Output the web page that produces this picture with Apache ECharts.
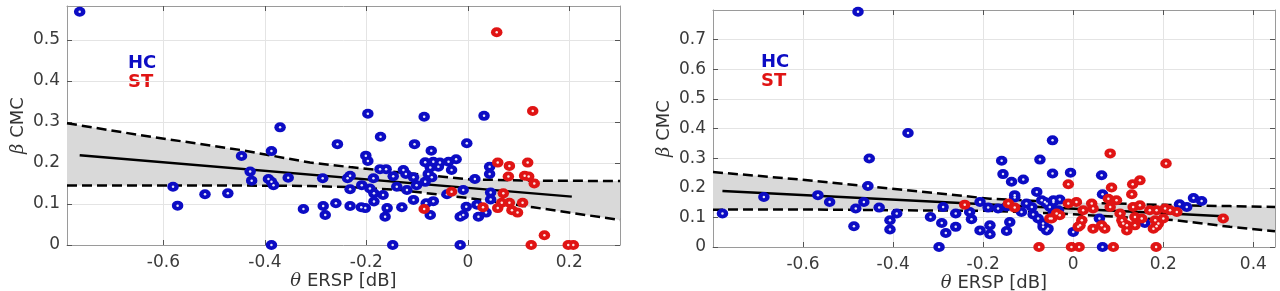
<!DOCTYPE html>
<html>
<head>
<meta charset="utf-8">
<script src="https://cdn.jsdelivr.net/npm/echarts@6/dist/echarts.min.js"></script>
<style>
  html, body { margin: 0; padding: 0; background: #fff; }
  #chart { width: 1280px; height: 291px; }
</style>
</head>
<body>
<div id="chart"></div>
<script>
// left panel points [theta ERSP, beta CMC]
const hcLeft = [
  [-0.765,0.569],[-0.581,0.142],[-0.572,0.096],[-0.518,0.124],[-0.473,0.126],[-0.446,0.217],
  [-0.429,0.179],[-0.426,0.157],[-0.370,0.287],[-0.387,0.229],[-0.393,0.161],[-0.387,0.154],
  [-0.383,0.146],[-0.354,0.164],[-0.387,0.0],[-0.324,0.088],[-0.285,0.095],[-0.281,0.073],
  [-0.197,0.320],[-0.086,0.313],[-0.172,0.264],[-0.257,0.246],[-0.105,0.246],[-0.072,0.230],
  [-0.002,0.248],[-0.201,0.218],[-0.197,0.205],[-0.084,0.202],[-0.068,0.203],[-0.055,0.201],
  [-0.038,0.203],[-0.023,0.209],[-0.032,0.183],[-0.173,0.185],[-0.161,0.185],[-0.127,0.183],
  [-0.122,0.173],[-0.232,0.169],[-0.237,0.163],[-0.286,0.163],[-0.186,0.163],[-0.147,0.168],
  [-0.107,0.165],[-0.074,0.189],[-0.078,0.173],[-0.071,0.165],[-0.058,0.191],[-0.084,0.154],
  [-0.101,0.146],[-0.140,0.142],[-0.209,0.146],[-0.193,0.138],[-0.232,0.136],[-0.185,0.126],
  [-0.167,0.122],[-0.120,0.134],[-0.041,0.124],[-0.009,0.134],[-0.260,0.102],[-0.232,0.095],
  [-0.210,0.092],[-0.202,0.090],[-0.185,0.106],[-0.159,0.090],[-0.163,0.069],[-0.130,0.092],
  [-0.107,0.110],[-0.082,0.102],[-0.068,0.107],[-0.074,0.073],[-0.015,0.069],[-0.009,0.073],
  [-0.003,0.093],[-0.148,0.0],[-0.015,0.0],[0.032,0.315],[0.043,0.191],[0.043,0.173],
  [0.014,0.161],[0.045,0.128],[0.045,0.111],[0.018,0.098],[0.021,0.069],[0.036,0.079]
];
const stLeft = [
  [-0.032,0.130],[-0.086,0.088],[0.057,0.519],[0.128,0.327],[0.059,0.201],[0.082,0.193],
  [0.118,0.201],[0.080,0.167],[0.112,0.169],[0.120,0.167],[0.131,0.150],[0.070,0.126],
  [0.030,0.092],[0.059,0.090],[0.067,0.103],[0.082,0.103],[0.087,0.085],[0.098,0.079],
  [0.108,0.103],[0.151,0.024],[0.125,0.0],[0.198,0.0],[0.208,0.0]
];
const fitLeft = [[-0.765,0.219],[0.205,0.118]];
const bandLeftX = [-0.79, -0.646, -0.449, -0.311, -0.232, -0.133, 0.005, 0.129, 0.30];
const bandLeftUp = [0.297, 0.268, 0.232, 0.201, 0.190, 0.177, 0.160, 0.157, 0.156];
const bandLeftLo = [0.145, 0.145, 0.145, 0.144, 0.141, 0.134, 0.114, 0.092, 0.061];

// right panel points
const hcRight = [
  [-0.478,0.794],[-0.779,0.113],[-0.687,0.169],[-0.567,0.175],[-0.541,0.152],[-0.487,0.070],
  [-0.483,0.130],[-0.453,0.299],[-0.456,0.206],[-0.465,0.152],[-0.431,0.133],[-0.367,0.385],
  [-0.407,0.090],[-0.407,0.059],[-0.392,0.113],[-0.317,0.101],[-0.292,0.081],[-0.289,0.135],
  [-0.283,0.047],[-0.298,0.0],[-0.261,0.113],[-0.261,0.068],[-0.230,0.118],[-0.226,0.094],
  [-0.207,0.152],[-0.189,0.133],[-0.207,0.056],[-0.185,0.073],[-0.185,0.043],[-0.167,0.130],
  [-0.159,0.291],[-0.156,0.246],[-0.137,0.220],[-0.111,0.228],[-0.148,0.137],[-0.130,0.167],
  [-0.141,0.084],[-0.148,0.054],[-0.115,0.118],[-0.104,0.147],[-0.081,0.186],[-0.074,0.295],
  [-0.046,0.360],[-0.046,0.248],[-0.070,0.158],[-0.089,0.110],[-0.067,0.079],[-0.059,0.147],
  [-0.044,0.152],[-0.056,0.062],[-0.006,0.251],[0.063,0.242],[0.065,0.178],[0.267,0.165],
  [0.285,0.155],[0.236,0.144],[0.252,0.135],[0.065,0.0],[-0.044,0.158],[-0.030,0.160],
  [-0.044,0.118],[-0.033,0.124],[0.0,0.051],[0.058,0.096],[0.159,0.081],[-0.130,0.175],
  [-0.092,0.135],[-0.052,0.135],[-0.063,0.152],[-0.067,0.068],[-0.059,0.056],[-0.078,0.096]
];
const stRight = [
  [-0.241,0.143],[-0.144,0.147],[-0.130,0.133],[-0.048,0.096],[-0.076,0.0],[-0.011,0.212],
  [0.082,0.316],[0.085,0.201],[0.206,0.282],[0.132,0.212],[0.148,0.225],[0.130,0.178],
  [0.333,0.096],[-0.004,0.0],[0.013,0.0],[0.089,0.0],[0.184,0.0],[-0.011,0.147],
  [0.007,0.152],[0.022,0.124],[0.041,0.147],[0.044,0.130],[-0.030,0.107],[0.019,0.090],
  [0.015,0.073],[0.044,0.062],[0.063,0.073],[0.070,0.062],[0.078,0.163],[0.096,0.158],
  [0.082,0.135],[0.104,0.113],[0.108,0.090],[0.119,0.073],[0.133,0.135],[0.148,0.141],
  [0.137,0.101],[0.137,0.073],[0.152,0.096],[0.170,0.124],[0.185,0.124],[0.204,0.130],
  [0.215,0.124],[0.230,0.118],[0.182,0.090],[0.185,0.070],[0.200,0.096],[-0.052,0.096],
  [-0.037,0.113],[0.011,0.068],[0.111,0.079],[0.119,0.056],[0.178,0.062],[0.189,0.079]
];
const fitRight = [[-0.779,0.189],[0.333,0.104]];
const bandRightX = [-0.8, -0.607, -0.385, -0.185, -0.030, 0.230, 0.348, 0.448];
const bandRightUp = [0.253, 0.228, 0.194, 0.163, 0.152, 0.141, 0.138, 0.135];
const bandRightLo = [0.126, 0.127, 0.124, 0.122, 0.113, 0.090, 0.068, 0.053];

const xTicksLeft = [-0.6, -0.4, -0.2, 0, 0.2];
const yTicksLeft = [0, 0.1, 0.2, 0.3, 0.4, 0.5];
const xTicksRight = [-0.6, -0.4, -0.2, 0, 0.2, 0.4];
const yTicksRight = [0, 0.1, 0.2, 0.3, 0.4, 0.5, 0.6, 0.7];

const BLUE = '#0c0cc4';
const RED = '#e01414';
const FONT = 'DejaVu Sans';

const chart = echarts.init(document.getElementById('chart'), null, { renderer: 'canvas' });

function zip(xs, ys) {
  return xs.map((x, i) => [x, ys[i]]);
}

const frameLine = { show: true, onZero: false, lineStyle: { color: '#9a9a9a', width: 1 } };
const nameStyle = {
  fontFamily: FONT, fontSize: 18, color: '#333',
  rich: { i: { fontFamily: 'DejaVu Serif', fontStyle: 'italic', fontSize: 18, color: '#333' } }
};

function mainX(gridIndex, min, max, ticks) {
  return {
    type: 'value', gridIndex, min, max, position: 'bottom',
    name: '{i|θ} ERSP [dB]', nameLocation: 'middle', nameGap: 27, nameMoveOverlap: false,
    nameTextStyle: nameStyle,
    axisLine: frameLine,
    axisTick: { show: true, inside: true, length: 5, customValues: ticks, lineStyle: { color: '#555' } },
    axisLabel: { customValues: ticks, fontFamily: FONT, fontSize: 17, color: '#3a3a3a', margin: 9 },
    splitLine: { show: true, lineStyle: { color: '#e4e4e4', width: 1 } }
  };
}
function mainY(gridIndex, min, max, ticks, gap) {
  return {
    type: 'value', gridIndex, min, max, position: 'left',
    name: '{i|β} CMC', nameLocation: 'middle', nameGap: gap, nameRotate: 90, nameMoveOverlap: false,
    nameTextStyle: nameStyle,
    axisLine: frameLine,
    axisTick: { show: true, inside: true, length: 5, customValues: ticks, lineStyle: { color: '#555' } },
    axisLabel: { customValues: ticks, fontFamily: FONT, fontSize: 17, color: '#3a3a3a', margin: 7 },
    splitLine: { show: true, lineStyle: { color: '#e4e4e4', width: 1 } }
  };
}
function boxX(gridIndex, min, max, ticks) {
  return {
    type: 'value', gridIndex, min, max, position: 'top',
    axisLine: frameLine,
    axisTick: { show: true, inside: true, length: 5, customValues: ticks, lineStyle: { color: '#555' } },
    axisLabel: { show: false }, splitLine: { show: false }
  };
}
function boxY(gridIndex, min, max, ticks) {
  return {
    type: 'value', gridIndex, min, max, position: 'right',
    axisLine: frameLine,
    axisTick: { show: true, inside: true, length: 5, customValues: ticks, lineStyle: { color: '#555' } },
    axisLabel: { show: false }, splitLine: { show: false }
  };
}

function band(xi, yi, up, lo) {
  const poly = up.concat(lo.slice().reverse());
  return {
    type: 'custom', xAxisIndex: xi, yAxisIndex: yi, z: 1, silent: true,
    data: [0],
    clip: true,
    renderItem: (params, api) => ({
      type: 'polygon',
      shape: { points: poly.map(p => api.coord(p)) },
      style: { fill: '#d9d9d9', stroke: null }
    })
  };
}
function line(xi, yi, data, dashed) {
  return {
    type: 'line', xAxisIndex: xi, yAxisIndex: yi, data, z: 2, silent: true,
    symbol: 'none', smooth: false,
    lineStyle: { color: '#000', width: 2.5, type: dashed ? [10, 5] : 'solid' }
  };
}
// MATLAB style thick ring: filled disc + tiny white centre
function dots(xi, yi, data, color) {
  return [{
    type: 'scatter', xAxisIndex: xi, yAxisIndex: yi, data, z: 3,
    symbol: 'circle', symbolSize: [11.5, 10],
    itemStyle: { color, opacity: 1 }
  }, {
    type: 'scatter', xAxisIndex: xi, yAxisIndex: yi, data, z: 3, silent: true,
    symbol: 'circle', symbolSize: 2.5,
    itemStyle: { color: '#ffffff', opacity: 0.9 }
  }];
}
function groupLabel(left, top, text, color) {
  return {
    type: 'text', left, top,
    style: { text, fill: color, font: 'bold 18px "DejaVu Sans"' }
  };
}

chart.setOption({
  animation: false,
  backgroundColor: '#fff',
  grid: [
    { left: 67, top: 6, width: 553, height: 239, outerBoundsMode: 'none', containLabel: false },
    { left: 713, top: 10, width: 562, height: 237, outerBoundsMode: 'none', containLabel: false }
  ],
  xAxis: [
    mainX(0, -0.79, 0.30, xTicksLeft),
    boxX(0, -0.79, 0.30, xTicksLeft),
    mainX(1, -0.8, 0.448, xTicksRight),
    boxX(1, -0.8, 0.448, xTicksRight)
  ],
  yAxis: [
    mainY(0, 0, 0.583, yTicksLeft, 40),
    boxY(0, 0, 0.583, yTicksLeft),
    mainY(1, 0, 0.8, yTicksRight, 40),
    boxY(1, 0, 0.8, yTicksRight)
  ],
  graphic: [
    groupLabel(128, 54, 'HC', BLUE),
    groupLabel(128, 73, 'ST', RED),
    groupLabel(761, 53, 'HC', BLUE),
    groupLabel(761, 72, 'ST', RED)
  ],
  series: [
    band(0, 0, zip(bandLeftX, bandLeftUp), zip(bandLeftX, bandLeftLo)),
    line(0, 0, zip(bandLeftX, bandLeftUp), true),
    line(0, 0, zip(bandLeftX, bandLeftLo), true),
    line(0, 0, fitLeft, false),
    ...dots(0, 0, hcLeft, BLUE),
    ...dots(0, 0, stLeft, RED),
    band(2, 2, zip(bandRightX, bandRightUp), zip(bandRightX, bandRightLo)),
    line(2, 2, zip(bandRightX, bandRightUp), true),
    line(2, 2, zip(bandRightX, bandRightLo), true),
    line(2, 2, fitRight, false),
    ...dots(2, 2, hcRight, BLUE),
    ...dots(2, 2, stRight, RED)
  ]
});
</script>
</body>
</html>
